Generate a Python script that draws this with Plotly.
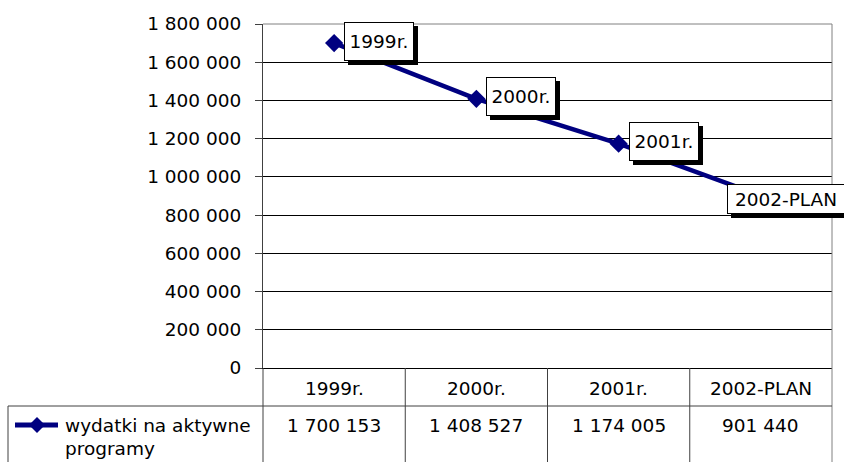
import plotly.graph_objects as go

# ---- data ----
categories = ["1999r.", "2000r.", "2001r.", "2002-PLAN"]
values = [1700153, 1408527, 1174005, 901440]
series_label_lines = ["wydatki na aktywne", "programy"]
y_tick_values = [0, 200000, 400000, 600000, 800000, 1000000, 1200000, 1400000, 1600000, 1800000]


def fmt(v):
    return f"{v:,}".replace(",", " ")


# ---- geometry (pixels) ----
W, H = 844, 462
PL, PR, PT, PB = 263, 832, 24, 368   # plot box
ROW2 = 406                             # table: top of values row
LEG_L = 8                              # left edge of legend cell
FONT = "DejaVu Sans"
FS = 18.5
NAVY = "#000080"
GRID = "#000000"
TLINE = "#404040"
BORDER = "#808080"


def fx(x):
    return x / W


def fy(y):
    return 1 - y / H


fig = go.Figure()
fig.add_trace(go.Scatter(
    x=categories, y=values, mode="lines+markers",
    line=dict(color=NAVY, width=4.5),
    marker=dict(symbol="diamond", size=14, color=NAVY),
    showlegend=False, cliponaxis=False, hoverinfo="skip",
))

shapes = []


def seg(x0, y0, x1, y1, color, width=1):
    shapes.append(dict(type="line", xref="paper", yref="paper",
                       x0=fx(x0), y0=fy(y0), x1=fx(x1), y1=fy(y1),
                       line=dict(color=color, width=width), layer="above"))


# plot border (top / right)
seg(PL, PT, PR, PT, BORDER)
seg(PR, PT, PR, H, BORDER)
# data table
n = len(categories)
step = (PR - PL) / n
seg(LEG_L, ROW2, PR, ROW2, TLINE)
seg(LEG_L, ROW2, LEG_L, H, TLINE)
seg(PL, PB, PL, H, TLINE)
for i in range(1, n):
    xx = PL + i * step
    seg(xx, PB, xx, H, TLINE)

# legend key in table
seg(15, 425, 58, 425, NAVY, 5)
cx, cy, r = 37, 425, 8
shapes.append(dict(type="path", xref="paper", yref="paper",
                   path=f"M {fx(cx)} {fy(cy - r)} L {fx(cx + r)} {fy(cy)} L {fx(cx)} {fy(cy + r)} L {fx(cx - r)} {fy(cy)} Z",
                   fillcolor=NAVY, line=dict(color=NAVY, width=0), layer="above"))

annotations = []
font = dict(family=FONT, size=FS, color="black")

# data labels with drop shadow
label_style = [
    dict(xs=10, ys=2, w=68, h=37, align="center"),
    dict(xs=10, ys=2, w=68, h=37, align="center"),
    dict(xs=10, ys=2, w=68, h=37, align="center"),
    dict(xs=-34, ys=-3, w=116, h=28, align="center"),
]
for cat, val, st in zip(categories, values, label_style):
    for shadow in (True, False):
        annotations.append(dict(
            x=cat, y=val, xref="x", yref="y", text=cat, showarrow=False,
            xanchor="left", yanchor="middle",
            xshift=st["xs"] + (4 if shadow else 0),
            yshift=st["ys"] - (4 if shadow else 0),
            width=st["w"], height=st["h"], align=st["align"],
            bgcolor="black" if shadow else "white",
            bordercolor="black", borderwidth=1, borderpad=0,
            font=font,
        ))

# table text
for cat, val in zip(categories, values):
    annotations.append(dict(x=cat, y=fy(388), xref="x", yref="paper", text=cat,
                            showarrow=False, xanchor="center", yanchor="middle", font=font))
    annotations.append(dict(x=cat, y=fy(425.5), xref="x", yref="paper", text=fmt(val),
                            showarrow=False, xanchor="center", yanchor="middle", font=font))
for line_text, yy in zip(series_label_lines, (425.5, 448.5)):
    annotations.append(dict(x=fx(63), y=fy(yy), xref="paper", yref="paper", text=line_text,
                            showarrow=False, xanchor="left", yanchor="middle", font=font))

fig.update_layout(
    width=W, height=H,
    margin=dict(l=0, r=0, t=0, b=0),
    paper_bgcolor="white", plot_bgcolor="white",
    template="none",
    showlegend=False,
    xaxis=dict(domain=[fx(PL), fx(PR)], type="category", range=[-0.5, n - 0.5],
               showticklabels=False, ticks="", showgrid=False, zeroline=False,
               showline=True, linecolor=GRID, linewidth=1, automargin=False),
    yaxis=dict(domain=[fy(PB), fy(PT)], range=[0, 1800000],
               tickvals=y_tick_values, ticktext=[fmt(v) for v in y_tick_values],
               ticks="outside", ticklen=7, tickcolor=TLINE, tickwidth=1,
               showline=True, linecolor=TLINE, linewidth=1,
               showgrid=True, gridcolor=GRID, gridwidth=1, zeroline=False,
               tickfont=font, ticklabelstandoff=10, automargin=False),
    shapes=shapes,
    annotations=annotations,
)

fig.write_html("out.html", config={"displayModeBar": False},
               post_script="document.body.style.margin='0';document.body.style.overflow='hidden';")
